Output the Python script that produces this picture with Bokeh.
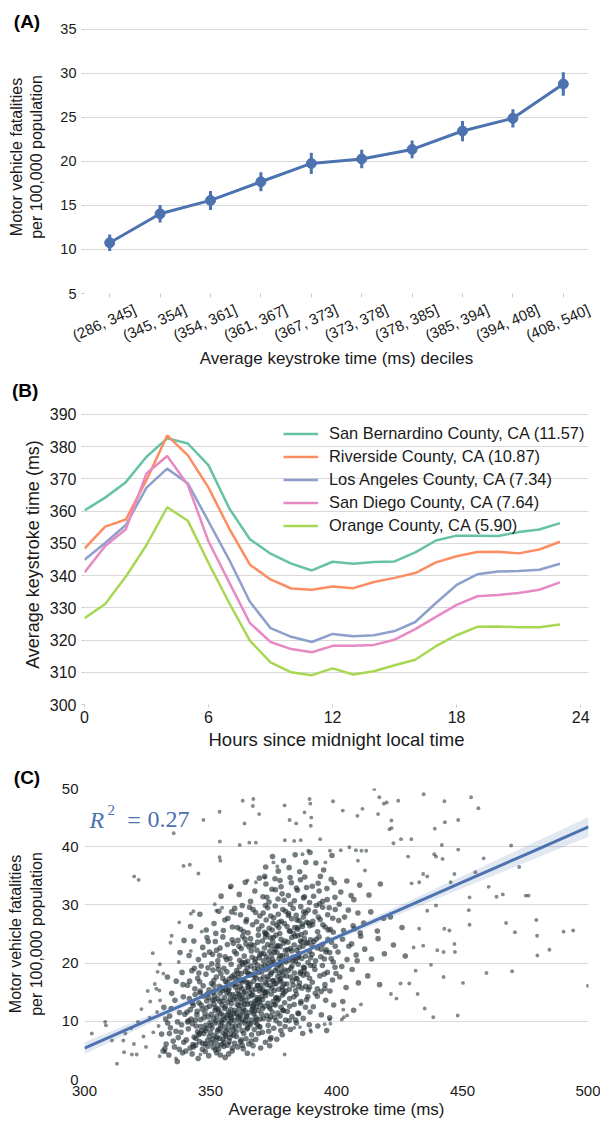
from bokeh.plotting import figure
from bokeh.layouts import column
from bokeh.models import (Range1d, FixedTicker, Label, ColumnDataSource, Legend, LegendItem)
from bokeh.embed import file_html
from bokeh.resources import INLINE

FONT = "Liberation Sans"
GRID = "#d9d9d9"
TXT = "#1a1a1a"
BLUE = "#4c72b0"

# ---------------- Panel A data ----------------
decile_labels = ["(286, 345]", "(345, 354]", "(354, 361]", "(361, 367]", "(367, 373]",
                 "(373, 378]", "(378, 385]", "(385, 394]", "(394, 408]", "(408, 540]"]
decile_rate = [10.76, 14.05, 15.57, 17.69, 19.77, 20.27, 21.36, 23.45, 24.89, 28.79]
decile_err = [0.93, 1.0, 1.08, 1.08, 1.2, 1.04, 1.0, 1.15, 1.04, 1.33]
a_yticks = [5, 10, 15, 20, 25, 30, 35]

# ---------------- Panel B data ----------------
hours = list(range(24))
san_bernardino = [360.2, 364.2, 369.0, 376.9, 382.6, 381.0, 374.2, 360.9, 351.3, 346.8, 343.7, 341.6,
                  344.3, 343.7, 344.2, 344.4, 347.2, 350.9, 352.4, 352.4, 352.3, 353.5, 354.3, 356.3]
riverside = [348.4, 355.2, 357.4, 369.7, 383.5, 377.3, 367.3, 354.6, 343.4, 338.8, 336.0, 335.6,
             336.6, 336.1, 338.0, 339.3, 340.8, 344.1, 346.0, 347.3, 347.4, 346.9, 348.1, 350.5]
los_angeles = [344.9, 350.1, 355.7, 367.3, 373.2, 368.6, 356.8, 344.9, 331.9, 323.7, 321.0, 319.4,
               321.9, 321.2, 321.5, 322.8, 325.6, 331.5, 337.1, 340.4, 341.3, 341.4, 341.8, 343.7]
san_diego = [341.0, 349.2, 354.4, 371.7, 377.1, 368.1, 350.6, 337.9, 325.3, 319.4, 317.2, 316.2,
             318.2, 318.2, 318.5, 320.1, 323.4, 327.2, 330.9, 333.6, 334.0, 334.6, 335.6, 337.9]
orange_county = [326.8, 331.2, 339.7, 349.5, 361.2, 357.0, 343.9, 331.5, 319.8, 313.1, 310.0, 309.1,
                 311.2, 309.3, 310.3, 312.2, 313.9, 318.1, 321.5, 324.1, 324.2, 324.0, 324.0, 324.8]
county_names = ["San Bernardino County, CA (11.57)", "Riverside County, CA (10.87)",
                "Los Angeles County, CA (7.34)", "San Diego County, CA (7.64)",
                "Orange County, CA (5.90)"]
county_colors = ["#66c2a5", "#fc8d62", "#8da0cb", "#e78ac3", "#a6d854"]
b_xticks = [0, 6, 12, 18, 24]
b_yticks = [300, 310, 320, 330, 340, 350, 360, 370, 380, 390]

# ---------------- Panel C data ----------------
sparse_counties = [
    (335.4, 42.3), (319.7, 34.9), (321.5, 34.3), (339.3, 36.7), (341.8, 36.9), (345.2, 35.4), (347.2, 44.6),
    (353.6, 46.0), (353.7, 40.9), (353.6, 38.2), (353.9, 37.6), (362.8, 47.9), (367.0, 48.2), (366.8, 47.0),
    (363.5, 44.0), (361.6, 40.3), (365.4, 40.7), (368.0, 40.7), (369.3, 45.6), (379.4, 47.1), (381.4, 44.6),
    (384.0, 44.0), (389.3, 48.2), (389.6, 47.4), (387.3, 45.9), (390.0, 45.0), (389.8, 43.6), (393.5, 41.3),
    (398.6, 47.8), (402.5, 46.2), (408.3, 45.3), (410.3, 46.5), (415.0, 49.9), (417.0, 48.5), (416.5, 45.6),
    (418.8, 47.4), (419.9, 47.6), (424.5, 47.9), (421.8, 44.5), (421.0, 43.0), (421.9, 43.2), (422.6, 40.6),
    (425.6, 41.3), (429.7, 41.3), (434.6, 49.0), (439.0, 43.1), (442.8, 47.8), (443.0, 44.2), (448.3, 44.6),
    (453.4, 48.5), (456.3, 46.6), (448.3, 39.5), (441.8, 40.3), (438.8, 38.7), (439.5, 38.3), (442.1, 37.9),
    (428.4, 38.3), (458.4, 38.0), (469.3, 40.2), (472.5, 36.5), (475.1, 31.6), (476.2, 31.6), (466.0, 31.8),
    (463.5, 31.4), (460.4, 33.1), (452.8, 31.3), (452.5, 29.1), (452.8, 26.6), (455.1, 35.6), (446.8, 35.3),
    (445.3, 33.9), (434.4, 35.3), (436.0, 34.9), (432.8, 33.9), (429.8, 33.7), (467.3, 26.9), (470.8, 25.3),
    (479.3, 27.4), (479.6, 24.7), (479.7, 21.3), (484.5, 22.3), (490.1, 25.4), (493.9, 25.6), (499.8, 16.1),
    (459.5, 18.3), (469.7, 18.6), (450.2, 16.6), (442.5, 17.6), (448.1, 11.0), (438.4, 10.7), (435.0, 12.2),
    (437.5, 19.7), (440.0, 22.2), (442.5, 21.9), (447.0, 21.9), (446.8, 23.3), (444.8, 25.6), (442.8, 25.9),
    (439.5, 29.9), (436.0, 29.0), (432.8, 25.9), (434.4, 23.0), (430.6, 22.7), (431.4, 18.7), (432.2, 14.7),
    (428.9, 16.5), (425.4, 16.5), (423.8, 13.9), (421.6, 14.7), (409.7, 12.9), (402.9, 10.7), (404.2, 11.0),
    (402.7, 12.0), (402.1, 10.3), (397.6, 9.6), (397.3, 10.3), (395.3, 9.5), (389.6, 8.5), (389.9, 8.2),
    (385.5, 9.0), (383.2, 8.9), (379.4, 4.3), (366.9, 4.3), (357.5, 6.2), (351.4, 6.2), (346.0, 4.3),
    (336.3, 3.6), (332.1, 4.7), (329.8, 4.0), (312.9, 2.7), (318.8, 4.3), (320.7, 4.3), (315.7, 4.7),
    (302.9, 7.9), (308.2, 9.9), (308.5, 9.3), (310.9, 6.7), (315.4, 6.7), (327.1, 21.7), (329.0, 18.5),
    (331.3, 18.2), (328.5, 15.6), (329.7, 15.3), (330.0, 13.6), (337.4, 20.2), (334.1, 23.5), (334.6, 24.7),
    (337.6, 27.0), (342.2, 28.5), (343.2, 28.9), (342.2, 22.1), (346.5, 25.4), (351.7, 30.1), (352.3, 29.0),
    (354.6, 29.5), (359.8, 28.5), (357.8, 33.0), (364.7, 34.2), (368.0, 33.9), (371.6, 34.7), (375.0, 37.3),
    (376.5, 36.6), (379.5, 41.1), (383.2, 41.0), (385.8, 41.1), (386.5, 38.7), (388.8, 39.3), (395.6, 37.3),
    (397.4, 39.3), (401.7, 39.4), (405.1, 39.9), (407.7, 39.4), (409.9, 39.3), (411.8, 39.3), (408.5, 37.6),
    (411.3, 35.9), (318.5, 8.8), (321.2, 9.9), (323.4, 7.4), (325.9, 10.6), (327.3, 8.1), (322.6, 12.1),
    (326.1, 13.4), (328.8, 11.6), (329.4, 9.2), (324.4, 5.6), (319.6, 6.1), (316.2, 7.9), (327.9, 16.4),
    (325.1, 15.2), (329.9, 19.8),
]
dense_counties = [
    (333.5, 4.2), (336.8, 3.1), (338.9, 4.6), (331.2, 4.9),
    (330.6, 7.8), (332.4, 6.1), (334.1, 8.9), (335.7, 5.6), (337.2, 7.2), (338.5, 9.4), (339.4, 6.4), (333.0, 9.7), (336.3, 8.3), (331.9, 5.3),
    (331.5, 12.4), (333.8, 10.9), (335.9, 13.6), (337.7, 11.5), (339.2, 14.2), (334.6, 14.8),
    (336.4, 16.9), (338.7, 18.4), (332.9, 17.6), (337.9, 21.8), (339.5, 23.9),
    (342.7, 4.4), (345.1, 3.6), (347.9, 4.8), (349.3, 4.1),
    (340.4, 6.8), (341.2, 8.7), (341.9, 5.4), (342.8, 9.6), (343.5, 7.3), (344.1, 5.9), (344.9, 8.2), (345.6, 6.5),
    (346.2, 9.1), (346.8, 5.2), (347.3, 7.9), (347.9, 6.1), (348.4, 8.8), (348.9, 5.7), (349.5, 7.4), (349.8, 9.8),
    (340.9, 9.9), (343.0, 6.0), (345.3, 7.7), (346.6, 8.4), (348.1, 9.3), (344.3, 9.2),
    (340.7, 11.6), (341.6, 13.9), (342.3, 10.4), (343.1, 12.7), (343.9, 14.6), (344.6, 11.1), (345.4, 13.2), (346.0, 10.3),
    (346.7, 12.1), (347.2, 14.3), (347.8, 11.4), (348.5, 13.5), (349.1, 10.8), (349.7, 12.6), (342.0, 12.0), (344.0, 10.2),
    (345.9, 14.9), (348.7, 14.7),
    (340.9, 16.2), (342.6, 18.7), (343.8, 15.6), (344.9, 17.4), (346.3, 19.5), (347.1, 16.1), (348.2, 18.1), (349.4, 15.4),
    (345.7, 16.8), (349.0, 19.2),
    (341.5, 21.3), (343.4, 23.8), (345.2, 20.6), (346.9, 22.7), (348.6, 24.4), (349.6, 21.9),
    (342.1, 26.3), (345.8, 28.4), (348.3, 25.7),
    (352.4, 4.6), (355.8, 3.8), (358.6, 4.9),
    (350.2, 6.3), (350.6, 8.9), (351.1, 5.5), (351.5, 7.6), (351.9, 9.7), (352.3, 6.8), (352.8, 8.3), (353.2, 5.2),
    (353.6, 7.1), (354.0, 9.4), (354.4, 6.0), (354.9, 8.0), (355.3, 5.7), (355.7, 9.0), (356.1, 7.4), (356.6, 5.9),
    (357.0, 8.6), (357.4, 6.6), (357.8, 9.9), (358.2, 7.8), (358.7, 5.4), (359.1, 8.5), (359.5, 6.2), (359.9, 9.2),
    (352.0, 5.1), (355.0, 6.9), (357.7, 7.2), (353.9, 8.8),
    (350.3, 11.2), (350.7, 13.6), (351.2, 10.5), (351.6, 14.4), (352.1, 12.3), (352.5, 10.9), (352.9, 13.9), (353.4, 11.7),
    (353.8, 14.8), (354.2, 10.2), (354.6, 12.8), (355.1, 11.0), (355.5, 14.1), (355.9, 12.5), (356.3, 10.6), (356.8, 13.3),
    (357.2, 11.6), (357.6, 14.6), (358.0, 12.0), (358.4, 10.4), (358.9, 13.7), (359.3, 11.3), (359.7, 14.2), (351.4, 12.9),
    (353.0, 12.1), (354.8, 13.5), (356.5, 14.9), (358.2, 13.0), (359.6, 10.1), (350.9, 14.9), (355.4, 10.3), (357.9, 11.1),
    (350.4, 16.5), (351.0, 18.8), (351.7, 15.3), (352.3, 17.6), (352.9, 19.6), (353.5, 16.0), (354.1, 18.2), (354.7, 15.7),
    (355.3, 19.1), (355.9, 16.9), (356.5, 18.5), (357.1, 15.2), (357.6, 17.3), (358.2, 19.8), (358.8, 16.3), (359.4, 18.0),
    (359.9, 15.9), (353.2, 18.9), (356.0, 15.5), (358.5, 17.7), (351.3, 17.0), (354.9, 17.4),
    (350.8, 21.5), (351.9, 23.7), (352.9, 20.4), (353.8, 22.6), (354.9, 24.5), (355.8, 21.1), (356.7, 23.2), (357.7, 20.8),
    (358.6, 24.0), (359.5, 22.0), (352.4, 22.2),
    (351.4, 26.8), (353.3, 28.9), (355.1, 25.6), (356.9, 27.7), (358.7, 26.2), (359.6, 29.4), (354.2, 31.5), (358.1, 33.2),
    (364.6, 4.5),
    (360.3, 7.4), (360.8, 5.6), (361.4, 9.2), (361.9, 6.5), (362.5, 8.4), (363.0, 5.3), (363.6, 9.7), (364.1, 7.0),
    (364.7, 8.9), (365.2, 6.1), (365.8, 9.4), (366.3, 7.7), (366.9, 5.8), (367.4, 8.6), (368.0, 6.9), (368.5, 9.5),
    (369.1, 7.9), (369.6, 9.0), (362.2, 6.8), (367.7, 9.9),
    (360.2, 11.4), (360.5, 13.8), (360.9, 10.6), (361.2, 12.7), (361.6, 14.5), (361.9, 11.1), (362.3, 13.2), (362.6, 10.3),
    (363.0, 12.3), (363.3, 14.8), (363.7, 11.8), (364.0, 13.6), (364.4, 10.8), (364.7, 12.9), (365.1, 14.2), (365.4, 11.5),
    (365.8, 13.1), (366.1, 10.2), (366.5, 12.0), (366.8, 14.6), (367.2, 11.3), (367.5, 13.4), (367.9, 10.7), (368.2, 12.5),
    (368.6, 14.1), (368.9, 11.9), (369.3, 13.8), (369.7, 10.4), (369.9, 12.8), (361.4, 12.1), (363.9, 10.1), (365.6, 14.9),
    (367.0, 12.6), (368.4, 13.7), (362.8, 14.0),
    (360.1, 16.4), (360.4, 18.7), (360.8, 15.3), (361.1, 17.5), (361.5, 19.4), (361.8, 16.0), (362.2, 18.2), (362.5, 15.6),
    (362.9, 19.8), (363.2, 17.1), (363.6, 15.1), (363.9, 18.6), (364.3, 16.7), (364.6, 19.2), (365.0, 15.8), (365.3, 17.9),
    (365.7, 16.3), (366.0, 19.5), (366.4, 15.4), (366.7, 18.0), (367.1, 16.9), (367.4, 19.0), (367.8, 15.5), (368.1, 17.4),
    (368.5, 19.7), (368.8, 16.2), (369.2, 18.4), (369.5, 15.2), (369.9, 17.2), (362.0, 17.0), (364.8, 18.3), (367.6, 17.8),
    (360.3, 21.6), (360.9, 23.9), (361.6, 20.5), (362.2, 22.5), (362.8, 24.6), (363.4, 21.2), (364.1, 23.3), (364.7, 20.3),
    (365.3, 22.8), (365.9, 24.2), (366.5, 21.0), (367.2, 23.0), (367.8, 20.7), (368.4, 22.2), (369.0, 24.8), (369.6, 21.4),
    (361.3, 22.9), (363.7, 24.1), (366.2, 22.1), (368.7, 23.6), (362.5, 20.1), (369.3, 20.9),
    (360.7, 26.1), (361.9, 28.3), (363.1, 25.4), (364.3, 27.5), (365.5, 29.6), (366.7, 26.6), (367.9, 28.7), (369.1, 25.8),
    (362.6, 29.9), (368.3, 27.1), (364.9, 25.2),
    (361.4, 31.8), (363.8, 33.9), (365.9, 30.6), (367.6, 32.4), (369.4, 34.6),
    (370.6, 8.1), (371.8, 6.4), (372.9, 9.3), (374.0, 7.2), (375.1, 8.8), (376.3, 6.9), (377.4, 9.6), (378.5, 7.7),
    (379.6, 9.1), (373.5, 5.8),
    (370.2, 11.3), (370.6, 13.7), (371.0, 10.5), (371.5, 12.6), (371.9, 14.4), (372.3, 11.0), (372.8, 13.1), (373.2, 10.3),
    (373.6, 12.2), (374.1, 14.7), (374.5, 11.6), (374.9, 13.4), (375.4, 10.7), (375.8, 12.8), (376.2, 14.1), (376.7, 11.4),
    (377.1, 13.9), (377.6, 10.9), (378.0, 12.4), (378.5, 14.5), (378.9, 11.8), (379.4, 13.2), (379.8, 10.2), (376.0, 10.1),
    (370.1, 16.2), (370.4, 18.5), (370.8, 15.4), (371.1, 17.6), (371.5, 19.6), (371.8, 16.7), (372.2, 18.9), (372.5, 15.1),
    (372.9, 17.2), (373.2, 19.3), (373.6, 16.1), (373.9, 18.1), (374.3, 15.7), (374.6, 19.8), (375.0, 17.0), (375.3, 15.3),
    (375.7, 18.7), (376.0, 16.5), (376.4, 19.1), (376.7, 17.7), (377.1, 15.5), (377.4, 18.3), (377.8, 16.8), (378.1, 19.5),
    (378.5, 15.9), (378.8, 17.9), (379.2, 16.4), (379.5, 18.8), (379.9, 15.2), (371.7, 15.0), (374.8, 16.9), (377.9, 17.3),
    (370.2, 21.7), (370.6, 23.8), (371.0, 20.4), (371.4, 22.6), (371.8, 24.5), (372.2, 21.1), (372.7, 23.2), (373.1, 20.6),
    (373.5, 22.0), (373.9, 24.3), (374.3, 21.4), (374.7, 23.6), (375.1, 20.2), (375.6, 22.4), (376.0, 24.8), (376.4, 21.8),
    (376.8, 23.0), (377.2, 20.8), (377.6, 22.8), (378.0, 24.1), (378.5, 21.3), (378.9, 23.4), (379.3, 20.5), (379.7, 22.2),
    (372.4, 24.9), (375.3, 21.9), (377.9, 20.1), (374.0, 22.9),
    (370.4, 26.4), (370.9, 28.6), (371.5, 25.3), (372.1, 27.4), (372.7, 29.5), (373.3, 26.0), (373.9, 28.1), (374.5, 25.7),
    (375.1, 27.8), (375.7, 29.8), (376.3, 26.5), (376.9, 28.4), (377.5, 25.1), (378.1, 27.2), (378.7, 29.2), (379.3, 26.8),
    (379.8, 28.9), (371.8, 29.9), (374.8, 26.9), (377.2, 27.0),
    (370.8, 31.4), (372.0, 33.6), (373.2, 30.5), (374.4, 32.7), (375.6, 34.5), (376.8, 31.0), (378.0, 33.1), (379.2, 30.8),
    (371.5, 34.9), (377.6, 34.2), (371.9, 36.5), (374.6, 38.3), (376.9, 35.8), (379.0, 37.6),
    (381.7, 8.6), (384.1, 9.7), (386.6, 7.9), (389.2, 9.4),
    (380.5, 11.7), (381.4, 13.9), (382.3, 10.8), (383.2, 12.9), (384.1, 14.6), (385.0, 11.3), (385.9, 13.4), (386.8, 10.5),
    (387.7, 12.4), (388.6, 14.2), (389.5, 11.6), (383.8, 10.2),
    (380.3, 16.4), (380.8, 18.7), (381.3, 15.5), (381.8, 17.6), (382.3, 19.5), (382.8, 16.2), (383.3, 18.3), (383.8, 15.3),
    (384.3, 17.3), (384.8, 19.8), (385.3, 16.6), (385.8, 18.5), (386.3, 15.7), (386.8, 17.9), (387.3, 19.2), (387.8, 16.0),
    (388.3, 18.1), (388.8, 15.4), (389.3, 17.4), (389.8, 19.6), (385.0, 16.0),
    (380.2, 21.4), (380.7, 23.6), (381.2, 20.5), (381.7, 22.5), (382.2, 24.4), (382.7, 21.0), (383.2, 23.1), (383.7, 20.3),
    (384.2, 22.2), (384.7, 24.7), (385.2, 21.6), (385.7, 23.8), (386.2, 20.8), (386.7, 22.9), (387.2, 24.2), (387.7, 21.2),
    (388.2, 23.4), (388.7, 20.1), (389.2, 22.0), (389.7, 24.0), (384.4, 20.9), (386.0, 24.9),
    (380.4, 26.3), (381.0, 28.5), (381.6, 25.5), (382.2, 27.6), (382.8, 29.4), (383.4, 26.1), (384.0, 28.2), (384.6, 25.8),
    (385.2, 27.3), (385.8, 29.7), (386.4, 26.7), (387.0, 28.8), (387.6, 25.2), (388.2, 27.0), (388.8, 29.1), (389.4, 26.4),
    (383.0, 25.1), (386.9, 27.9),
    (380.9, 31.6), (382.1, 33.8), (383.3, 30.7), (384.5, 32.5), (385.7, 34.3), (386.9, 31.2), (388.1, 33.0), (389.3, 30.4),
    (381.6, 34.7), (387.4, 34.8), (381.2, 36.4), (383.6, 38.6), (385.4, 35.7), (387.8, 37.3), (389.5, 39.0),
    (392.6, 9.2), (396.1, 8.4),
    (390.8, 12.5), (392.4, 14.3), (394.0, 11.1), (395.7, 13.6), (397.3, 10.6), (398.9, 12.8),
    (390.4, 16.7), (391.4, 18.9), (392.4, 15.6), (393.4, 17.8), (394.4, 19.6), (395.4, 16.3), (396.4, 18.4), (397.4, 15.2),
    (398.4, 17.1), (399.4, 19.3), (393.9, 15.1),
    (390.3, 21.5), (391.0, 23.7), (391.7, 20.4), (392.4, 22.6), (393.1, 24.5), (393.8, 21.1), (394.5, 23.2), (395.2, 20.7),
    (395.9, 22.3), (396.6, 24.1), (397.3, 21.8), (398.0, 23.6), (398.7, 20.2), (399.5, 22.9),
    (390.5, 26.6), (391.5, 28.8), (392.5, 25.4), (393.5, 27.5), (394.5, 29.6), (395.5, 26.2), (396.5, 28.3), (397.5, 25.8),
    (398.5, 27.7), (399.5, 29.2), (392.0, 29.9),
    (390.9, 31.5), (392.7, 33.7), (394.5, 30.6), (396.2, 32.8), (397.9, 34.4), (399.4, 31.3), (393.6, 34.9),
    (391.8, 37.2), (394.9, 36.0), (398.2, 38.5),
    (402.5, 13.4), (406.8, 11.9), (401.3, 17.6), (403.8, 15.8), (406.2, 18.9), (408.7, 16.6),
    (400.6, 21.9), (402.4, 24.1), (404.2, 20.6), (406.0, 23.3), (407.8, 21.4), (409.6, 24.6),
    (400.9, 27.3), (402.8, 25.6), (404.7, 29.1), (406.6, 26.4), (408.5, 28.6), (409.4, 25.2),
    (401.7, 32.2), (404.1, 34.1), (406.9, 30.9), (409.2, 33.4),
    (412.4, 17.8), (417.1, 16.3), (411.2, 22.4), (413.9, 20.7), (416.5, 24.2), (419.0, 21.6),
    (410.8, 26.9), (413.6, 28.8), (416.2, 25.5), (418.7, 27.7), (412.9, 31.7), (417.4, 33.6),
    (422.6, 23.1), (427.3, 21.2), (421.4, 27.9), (426.0, 26.1),
    (345.7, 7.9), (347.4, 10.6), (348.8, 6.7), (350.1, 9.3), (351.8, 11.9), (352.6, 7.3), (353.7, 13.4), (354.5, 9.8),
    (355.6, 12.2), (356.2, 8.2), (357.3, 15.6), (358.1, 10.7), (359.2, 7.6), (360.6, 12.9), (361.7, 9.9), (362.4, 16.8),
    (363.5, 13.0), (364.2, 10.9), (365.7, 18.1), (366.4, 14.4), (367.3, 11.7), (368.6, 16.1), (369.4, 13.3), (370.3, 19.4),
    (371.6, 14.9), (372.7, 17.7), (373.4, 12.5), (374.6, 20.6), (375.5, 16.4), (376.6, 13.6), (377.7, 21.2), (378.3, 18.6),
    (379.1, 14.8), (380.6, 22.3), (381.9, 19.1), (382.5, 16.9), (383.6, 24.6), (384.9, 21.1), (385.6, 18.2), (386.5, 26.3),
    (346.3, 12.8), (347.9, 8.4), (349.2, 14.1), (350.8, 6.9), (351.3, 16.2), (352.2, 10.1), (353.1, 8.6), (354.8, 15.3),
    (355.2, 6.4), (356.9, 11.1), (357.8, 13.8), (358.6, 9.1), (359.7, 17.3), (360.2, 8.3), (361.1, 14.7), (362.9, 11.6),
    (363.2, 7.9), (364.9, 15.9), (365.3, 9.6), (366.8, 12.4), (367.6, 20.2), (368.3, 10.3), (369.8, 15.6), (370.7, 12.2),
    (371.2, 21.6), (372.3, 16.3), (373.8, 10.8), (374.2, 18.4), (375.9, 14.0), (376.2, 22.9), (377.3, 17.1), (378.8, 11.9),
    (379.6, 23.8), (380.1, 17.8), (381.3, 25.5), (382.8, 20.4), (383.1, 14.2), (384.3, 27.4), (385.2, 22.7), (386.9, 19.3),
    (387.8, 28.6), (388.4, 23.5), (389.7, 20.9), (390.6, 27.2), (391.9, 24.1), (393.3, 30.2), (394.6, 26.6), (395.8, 21.9),
    (397.1, 29.5), (398.7, 25.3),
    (343.2, 5.6), (344.7, 11.7), (346.9, 6.2), (348.3, 12.3), (349.9, 8.1), (351.6, 13.7), (352.9, 5.9), (354.1, 11.3),
    (355.9, 7.7), (356.6, 16.6), (357.1, 9.6), (358.9, 14.6), (359.5, 11.9), (360.9, 18.3), (361.3, 10.8), (362.1, 13.9),
    (363.8, 20.1), (364.5, 8.7), (365.1, 16.6), (366.1, 23.2), (367.9, 13.1), (368.9, 18.9), (369.2, 9.1), (370.4, 14.3),
    (371.9, 25.1), (372.9, 19.9), (373.1, 8.3), (374.9, 24.4), (375.2, 12.9), (376.9, 19.7), (377.1, 26.1), (378.6, 15.4),
    (379.9, 20.2), (380.9, 28.2), (381.4, 12.6), (382.2, 22.1), (383.9, 17.4), (384.6, 26.1), (385.8, 13.1), (386.2, 23.6),
    (387.1, 18.6), (388.9, 26.9), (389.3, 15.9), (390.2, 23.1), (391.1, 19.6), (392.8, 27.9), (393.9, 22.4), (395.1, 18.1),
    (396.7, 25.7), (397.9, 20.8),
    (350.5, 19.9), (353.6, 21.3), (356.4, 20.6), (359.1, 23.4), (361.9, 25.8), (364.1, 27.1), (366.9, 29.2), (369.6, 28.1),
    (372.4, 31.3), (375.8, 32.6), (378.4, 31.9), (381.7, 30.1), (384.1, 32.9), (387.3, 31.4), (390.4, 33.2), (393.1, 32.4),
    (396.3, 30.9), (399.1, 33.8), (345.4, 18.3), (347.6, 21.4),
    (349.1, 23.7), (352.1, 25.1), (355.7, 27.4), (358.4, 28.8), (341.3, 10.1), (342.9, 13.1), (344.2, 7.1), (345.9, 15.2),
    (338.3, 8.1), (339.8, 11.2), (336.9, 9.9), (335.2, 6.6), (337.6, 5.2), (334.4, 12.2), (341.7, 16.9), (343.6, 19.1),
    (339.1, 16.3), (333.7, 7.9), (332.2, 10.4), (340.2, 4.9),
    (362.6, 5.9), (366.2, 6.6), (369.9, 5.4), (357.2, 4.4), (353.9, 4.2), (373.7, 6.9), (377.9, 8.4), (381.2, 10.1),
    (384.7, 11.4), (388.1, 13.7), (391.6, 14.8), (395.4, 15.6), (399.8, 18.2), (402.1, 19.4), (404.9, 22.9), (407.1, 25.9),
    (403.2, 27.9), (405.8, 31.6), (401.1, 30.1), (408.2, 20.4),
]
fit_ms = [300, 325, 350, 375, 400, 425, 450, 475, 500]
fit_rate = [5.4, 10.15, 14.9, 19.65, 24.4, 29.15, 33.9, 38.65, 43.4]
fit_halfwidth = [1.0, 0.7, 0.42, 0.3, 0.47, 0.76, 1.06, 1.38, 1.7]
c_xticks = [300, 350, 400, 450, 500]
c_yticks = [0, 10, 20, 30, 40, 50]


def base_style(p, tick_size, label_size):
    p.outline_line_color = None
    p.background_fill_color = "white"
    p.border_fill_color = "white"
    for g in p.xgrid:
        g.grid_line_color = None
    for g in p.ygrid:
        g.grid_line_color = GRID
        g.grid_line_width = 1.2
    for ax in p.axis:
        ax.axis_line_color = None
        ax.minor_tick_line_color = None
        ax.major_tick_line_color = "#c8c8c8"
        ax.major_tick_in = 0
        ax.major_tick_out = 3
        ax.major_label_text_font = FONT
        ax.major_label_text_font_size = tick_size
        ax.major_label_text_color = TXT
        ax.axis_label_text_font = FONT
        ax.axis_label_text_font_size = label_size
        ax.axis_label_text_font_style = "normal"
        ax.axis_label_text_color = TXT


def panel_tag(p, text, offset, standoff):
    p.title.text = text
    p.title.align = "left"
    p.title.vertical_align = "bottom"
    p.title.offset = offset
    p.title.standoff = standoff
    p.title.text_font = FONT
    p.title.text_font_size = "19px"
    p.title.text_font_style = "bold"
    p.title.text_color = "black"


# ---------------- Panel A ----------------
# each decile occupies one unit cell [i, i+1]; points sit at the cell centres
n_dec = len(decile_labels)
decile_pos = [i + 0.5 for i in range(n_dec)]
pa = figure(width=600, height=372, x_range=Range1d(0, n_dec),
            y_range=Range1d(5, 36), output_backend="svg", toolbar_location=None,
            title="(A)",
            min_border_left=84, min_border_right=9, min_border_top=20, min_border_bottom=79)
base_style(pa, "14.5px", "17px")
pa.yaxis.ticker = FixedTicker(ticks=a_yticks)
pa.yaxis.axis_label = "Motor vehicle fatalities\nper 100,000 population"
pa.yaxis.axis_label_text_font_size = "16px"
pa.yaxis.axis_label_standoff = 12
xa = pa.xaxis[0]
# labels are anchored at the right edge of each cell (rotated text ends there),
# tick marks drawn as minor ticks at the cell centres
xa.ticker = FixedTicker(ticks=list(range(1, n_dec + 1)), minor_ticks=decile_pos)
xa.major_label_overrides = {i + 1: lab for i, lab in enumerate(decile_labels)}
xa.major_tick_line_color = None
xa.major_tick_out = 4
xa.minor_tick_line_color = "#c8c8c8"
xa.minor_tick_out = 4
xa.minor_tick_in = 0
xa.major_label_orientation = 0.42
xa.major_label_text_font_size = "15px"
xa.major_label_standoff = 11
xa.axis_label = "Average keystroke time (ms) deciles"
xa.axis_label_standoff = -6

src_a = ColumnDataSource(dict(pos=decile_pos, rate=decile_rate,
                              lo=[r - e for r, e in zip(decile_rate, decile_err)],
                              hi=[r + e for r, e in zip(decile_rate, decile_err)]))
pa.segment(x0="pos", y0="lo", x1="pos", y1="hi", source=src_a, line_color=BLUE, line_width=3)
pa.line(x="pos", y="rate", source=src_a, line_color=BLUE, line_width=3)
pa.scatter(x="pos", y="rate", source=src_a, size=10, fill_color=BLUE, line_color=BLUE)
panel_tag(pa, "(A)", -70.7, -23)

# ---------------- Panel B ----------------
pb = figure(width=600, height=380, x_range=Range1d(0, 24.38), y_range=Range1d(300, 393.1),
            output_backend="svg", toolbar_location=None, title="(B)",
            min_border_left=79, min_border_right=9, min_border_top=32, min_border_bottom=47)
base_style(pb, "16px", "18.5px")
pb.xaxis.ticker = FixedTicker(ticks=b_xticks)
pb.yaxis.ticker = FixedTicker(ticks=b_yticks)
pb.xaxis.axis_label = "Hours since midnight local time"
pb.yaxis.axis_label = "Average keystroke time (ms)"
pb.yaxis.axis_label_text_font_size = "18px"
pb.xaxis.major_label_standoff = 3
pb.xaxis.axis_label_standoff = 3
pb.yaxis.axis_label_standoff = 4

items = []
for name, vals, col in zip(county_names,
                           [san_bernardino, riverside, los_angeles, san_diego, orange_county],
                           county_colors):
    r = pb.line(hours, vals, line_color=col, line_width=2.5)
    items.append(LegendItem(label=name, renderers=[r]))
legend = Legend(items=items, location=(199, 167), background_fill_alpha=0,
                border_line_color=None, glyph_width=35, glyph_height=23, label_height=23,
                label_standoff=11, padding=5, spacing=0, margin=0,
                label_text_font=FONT, label_text_font_size="16.4px", label_text_color=TXT)
pb.add_layout(legend)
panel_tag(pb, "(B)", -72.5, 8)

# ---------------- Panel C ----------------
pc = figure(width=600, height=371, x_range=Range1d(300, 500), y_range=Range1d(0, 50),
            output_backend="svg", toolbar_location=None, title="(C)",
            min_border_left=84, min_border_right=12, min_border_top=36, min_border_bottom=44)
base_style(pc, "15px", "17px")
pc.xaxis.ticker = FixedTicker(ticks=c_xticks)
pc.yaxis.ticker = FixedTicker(ticks=c_yticks)
for ax in pc.axis:
    ax.major_tick_out = 0
pc.xaxis.major_label_standoff = 6
pc.xaxis.axis_label_standoff = 1
pc.xaxis.axis_label = "Average keystroke time (ms)"
pc.yaxis.axis_label = "Motor vehicle fatalities\nper 100,000 population"
pc.yaxis.axis_label_text_font_size = "16px"
pc.yaxis.axis_label_standoff = 14
pc.yaxis.major_label_standoff = 6

src_sparse = ColumnDataSource(dict(ms=[p[0] for p in sparse_counties],
                                   rate=[p[1] for p in sparse_counties]))
src_dense = ColumnDataSource(dict(ms=[p[0] for p in dense_counties],
                                  rate=[p[1] for p in dense_counties]))
pc.scatter(x="ms", y="rate", source=src_sparse, size=3.9, fill_color="#1e2b31", fill_alpha=0.55,
           line_color=None)
pc.scatter(x="ms", y="rate", source=src_dense, size=5.6, fill_color="#1e2b31", fill_alpha=0.62,
           line_color=None)
pc.varea(x=fit_ms, y1=[f - h for f, h in zip(fit_rate, fit_halfwidth)],
         y2=[f + h for f, h in zip(fit_rate, fit_halfwidth)], fill_color=BLUE, fill_alpha=0.16)
pc.line(fit_ms, fit_rate, line_color=BLUE, line_width=3)

for txt, x, y, size, style in [("R", 5, 260, "24px", "italic"), ("2", 23, 270, "15px", "normal"),
                                ("=", 42.7, 260, "24px", "normal"), ("0.27", 63, 260, "24px", "normal")]:
    pc.add_layout(Label(x=x, y=y, x_units="screen", y_units="screen", text=txt,
                        text_font="Liberation Serif", text_font_size=size, text_font_style=style,
                        text_color=BLUE, text_baseline="alphabetic", text_align="left"))
panel_tag(pc, "(C)", -70.7, 1.4)

layout = column(pa, pb, pc, spacing=0)
open("out.html", "w").write(file_html(layout, INLINE))
